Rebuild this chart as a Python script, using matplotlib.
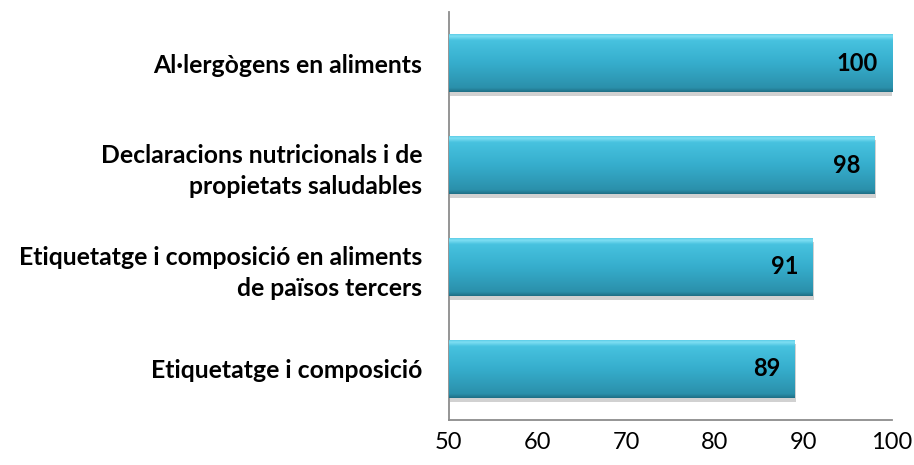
import numpy as np
import matplotlib
matplotlib.use("Agg")
import matplotlib.pyplot as plt
import matplotlib.patheffects as pe
from matplotlib.colors import LinearSegmentedColormap

categories = [
    "Al·lergògens en aliments",
    "Declaracions nutricionals i de\npropietats saludables",
    "Etiquetatge i composició en aliments\nde països tercers",
    "Etiquetatge i composició",
]
values = [100, 98, 91, 89]
xticks = [50, 60, 70, 80, 90, 100]

plt.rcParams["font.family"] = ["Lato", "DejaVu Sans"]

fig = plt.figure(figsize=(9.14, 4.65), dpi=100)
ax = fig.add_axes([0.491, 0.097, 0.485, 0.877])

y = np.arange(len(categories))
bars = ax.barh(y, [v - 50 for v in values], left=50, height=0.57,
               color="#33abcb", edgecolor="none", zorder=2)

# vertical gradient to mimic the bevelled Excel bars (row 0 = top of bar)
grad = LinearSegmentedColormap.from_list("bar", [
    (0.0, "#4fc6e2"), (0.05, "#7fdff3"), (0.12, "#47c2df"),
    (0.5, "#36aecd"), (0.93, "#2b90ab"), (1.0, "#1f6f86"),
])
g = np.linspace(0, 1, 200).reshape(-1, 1)
for b in bars:
    b.set_path_effects([pe.SimplePatchShadow(offset=(1, -3), shadow_rgbFace="#999999", alpha=0.45),
                        pe.Normal()])
    x0, y0 = b.get_x(), b.get_y()
    w, h = b.get_width(), b.get_height()
    im = ax.imshow(g, cmap=grad, aspect="auto", origin="upper",
                   extent=(x0, x0 + w, y0 + h, y0), zorder=3, interpolation="bilinear")
    im.set_clip_path(b)

for yi, v in zip(y, values):
    ax.annotate(str(v), xy=(v, yi), xytext=(-10, 0), textcoords="offset points",
                ha="right", va="center", fontsize=17, fontweight="bold", zorder=4)

ax.set_xlim(50, 100)
ax.set_ylim(len(categories) - 0.5, -0.5)
ax.set_xticks(xticks)
ax.set_xticklabels([str(t) for t in xticks], fontsize=17)
ax.set_yticks(y)
ax.set_yticklabels(categories, fontsize=17.8, fontweight="bold", linespacing=1.4)
ax.tick_params(axis="both", length=0)
ax.tick_params(axis="x", pad=9)
ax.tick_params(axis="y", pad=19)

for s in ("top", "right"):
    ax.spines[s].set_visible(False)
for s in ("left", "bottom"):
    ax.spines[s].set_color("#8c8c8c")
    ax.spines[s].set_linewidth(1.3)

fig.savefig("out.png", dpi=100)
